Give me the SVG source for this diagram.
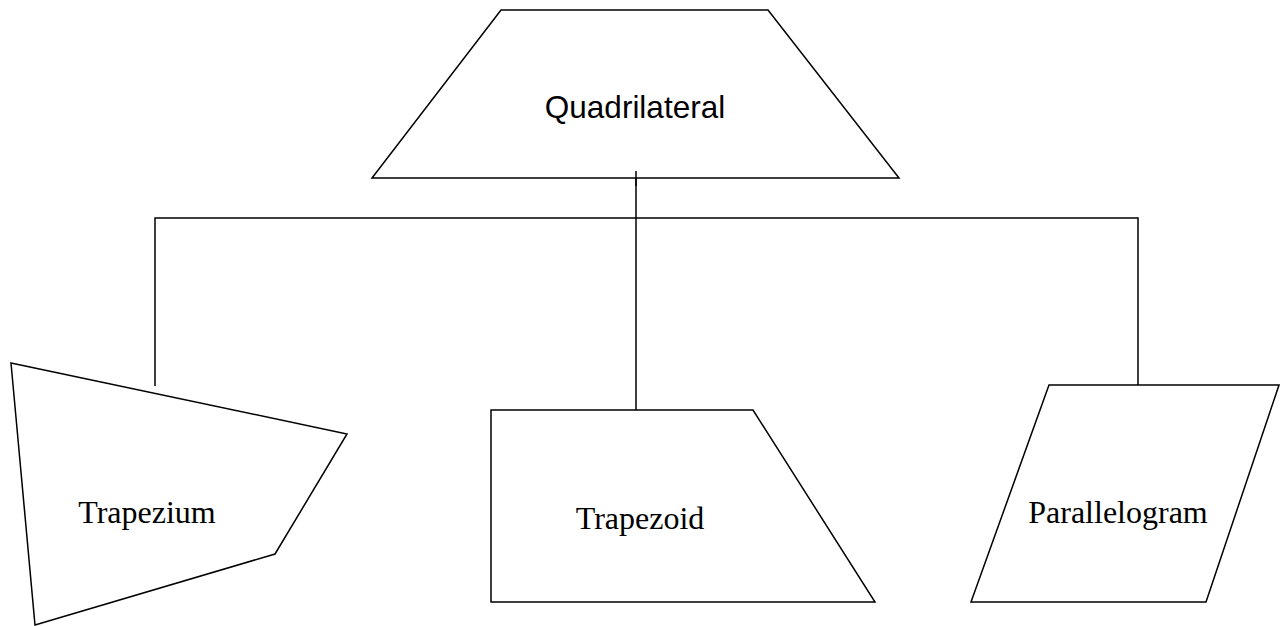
<svg xmlns="http://www.w3.org/2000/svg" width="1280" height="626" viewBox="0 0 1280 626">
<style>
.shape{fill:#fff;stroke:#000;stroke-width:1.5;stroke-linejoin:miter}
.conn{fill:none;stroke:#000;stroke-width:1.5}
.sans{font-family:"Liberation Sans",Arial,sans-serif;font-size:31.5px;fill:#000}
.serif{font-family:"Liberation Serif","Times New Roman",serif;font-size:32px;fill:#000}
</style>
<rect width="1280" height="626" fill="#fff"/>
<g id="connectors">
<line class="conn" x1="636" y1="171" x2="636" y2="410"/>
<polyline class="conn" points="155,386 155,218 1138,218 1138,385"/>
</g>
<g id="quadrilateral">
<polygon class="shape" points="501,10 768,10 899,178 372,178"/>
<text class="sans" x="635" y="118" text-anchor="middle">Quadrilateral</text>
</g>
<line class="conn" x1="636" y1="171" x2="636" y2="186"/>
<g id="trapezium">
<polygon class="shape" points="11,363 347,434 275,554 35,625"/>
<text class="serif" x="147" y="523" text-anchor="middle">Trapezium</text>
</g>
<g id="trapezoid">
<polygon class="shape" points="491,410 753,410 875,602 491,602"/>
<text class="serif" x="640" y="529" text-anchor="middle">Trapezoid</text>
</g>
<g id="parallelogram">
<polygon class="shape" points="1049,385 1279,385 1206,602 971,602"/>
<text class="serif" x="1118" y="523" text-anchor="middle">Parallelogram</text>
</g>
</svg>
